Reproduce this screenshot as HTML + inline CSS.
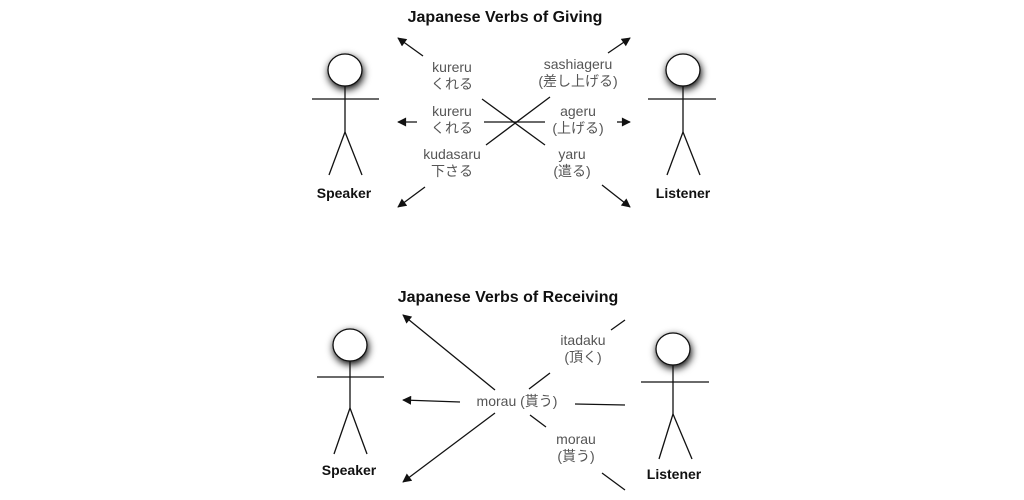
<!DOCTYPE html>
<html><head><meta charset="utf-8"><style>
html,body{margin:0;padding:0;background:#fff;width:1024px;height:500px;overflow:hidden}
svg text{font-family:"Liberation Sans","Noto Sans CJK JP",sans-serif}
.l{fill:#555;font-size:14px;text-anchor:middle}
.b{fill:#111;font-size:14px;font-weight:bold;text-anchor:middle}
.t{fill:#111;font-size:16px;font-weight:bold;text-anchor:middle}
</style></head><body>
<svg width="1024" height="500" viewBox="0 0 1024 500" xmlns="http://www.w3.org/2000/svg">
<defs>
<filter id="sh" x="-80%" y="-80%" width="260%" height="260%"><feGaussianBlur in="SourceAlpha" stdDeviation="4"/><feOffset dx="1" dy="3"/><feComponentTransfer><feFuncA type="linear" slope="1"/></feComponentTransfer><feMerge><feMergeNode/><feMergeNode in="SourceGraphic"/></feMerge></filter>
<marker id="a" viewBox="0 0 10 10" refX="9" refY="5" markerWidth="10" markerHeight="9" orient="auto" markerUnits="userSpaceOnUse"><path d="M0,0L10,5L0,10z" fill="#111"/></marker>
</defs>
<g stroke="#111" stroke-width="1.3" fill="none">
<ellipse cx="345" cy="70" rx="17" ry="16" fill="#fff" filter="url(#sh)"/>
<line x1="312" y1="99" x2="379" y2="99"/><line x1="345" y1="86" x2="345" y2="132"/>
<line x1="345" y1="132" x2="329" y2="175"/><line x1="345" y1="132" x2="362" y2="175"/>
<ellipse cx="683" cy="70" rx="17" ry="16" fill="#fff" filter="url(#sh)"/>
<line x1="648" y1="99" x2="716" y2="99"/><line x1="683" y1="86" x2="683" y2="132"/>
<line x1="683" y1="132" x2="667" y2="175"/><line x1="683" y1="132" x2="700" y2="175"/>
<line x1="423" y1="56" x2="398" y2="38" marker-end="url(#a)"/>
<line x1="417" y1="122" x2="398" y2="122" marker-end="url(#a)"/>
<line x1="425" y1="187" x2="398" y2="207" marker-end="url(#a)"/>
<line x1="608" y1="53" x2="630" y2="38" marker-end="url(#a)"/>
<line x1="617" y1="122" x2="630" y2="122" marker-end="url(#a)"/>
<line x1="602" y1="185" x2="630" y2="207" marker-end="url(#a)"/>
<line x1="482" y1="99" x2="545" y2="145"/>
<line x1="550" y1="97" x2="486" y2="145"/>
<line x1="484" y1="122" x2="545" y2="122"/>
<ellipse cx="350" cy="345" rx="17" ry="16" fill="#fff" filter="url(#sh)"/>
<line x1="317" y1="377" x2="384" y2="377"/><line x1="350" y1="361" x2="350" y2="408"/>
<line x1="350" y1="408" x2="334" y2="454"/><line x1="350" y1="408" x2="367" y2="454"/>
<ellipse cx="673" cy="349" rx="17" ry="16" fill="#fff" filter="url(#sh)"/>
<line x1="641" y1="382" x2="709" y2="382"/><line x1="673" y1="365" x2="673" y2="414"/>
<line x1="673" y1="414" x2="659" y2="459"/><line x1="673" y1="414" x2="692" y2="459"/>
<line x1="495" y1="390" x2="403" y2="315" marker-end="url(#a)"/>
<line x1="460" y1="402" x2="403" y2="400" marker-end="url(#a)"/>
<line x1="495" y1="413" x2="403" y2="482" marker-end="url(#a)"/>
<line x1="611" y1="330" x2="625" y2="320"/>
<line x1="529" y1="389" x2="550" y2="373"/>
<line x1="575" y1="404" x2="625" y2="405"/>
<line x1="530" y1="415" x2="546" y2="427"/>
<line x1="602" y1="473" x2="625" y2="490"/>
</g>
<text class="t" x="505" y="22">Japanese Verbs of Giving</text>
<text class="b" x="344" y="198">Speaker</text>
<text class="b" x="683" y="198">Listener</text>
<text class="l" x="452" y="72">kureru</text><text class="l" x="452" y="89">くれる</text>
<text class="l" x="452" y="116">kureru</text><text class="l" x="452" y="133">くれる</text>
<text class="l" x="452" y="159">kudasaru</text><text class="l" x="452" y="176">下さる</text>
<text class="l" x="578" y="69">sashiageru</text><text class="l" x="578" y="86">(差し上げる)</text>
<text class="l" x="578" y="116">ageru</text><text class="l" x="578" y="133">(上げる)</text>
<text class="l" x="572" y="159">yaru</text><text class="l" x="572" y="176">(遣る)</text>
<text class="t" x="508" y="302">Japanese Verbs of Receiving</text>
<text class="b" x="349" y="475">Speaker</text>
<text class="b" x="674" y="479">Listener</text>
<text class="l" x="583" y="345">itadaku</text><text class="l" x="583" y="362">(頂く)</text>
<text class="l" x="517" y="406">morau (貰う)</text>
<text class="l" x="576" y="444">morau</text><text class="l" x="576" y="461">(貰う)</text>
</svg>
</body></html>
